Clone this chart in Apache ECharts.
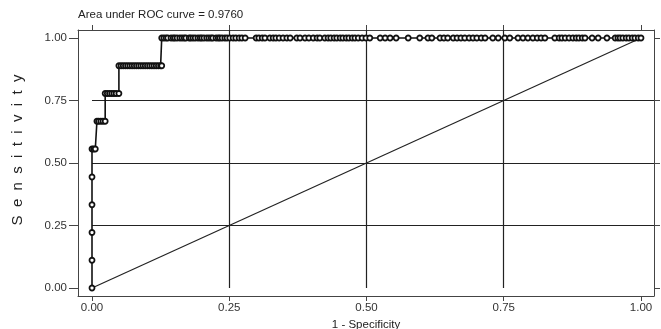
<!DOCTYPE html>
<html>
<head>
<meta charset="utf-8">
<script src="https://cdn.jsdelivr.net/npm/echarts@6/dist/echarts.min.js"></script>
<style>
  html, body { margin: 0; padding: 0; background: #fff; }
  #roc { width: 661px; height: 329px; }
</style>
</head>
<body>
<div id="roc"></div>
<script>
// tick values shared by all four axes
const ticks = [0, 0.25, 0.5, 0.75, 1]
const gridLines = [0.25, 0.5, 0.75]

// sensitivity steps (9 positives)
const sensLevels = [0, 0.111, 0.222, 0.333, 0.444, 0.556, 0.667, 0.778, 0.889, 1]

// 1 - specificity of the cutpoints found at each sensitivity level
const fprLevel0 = [0]
const fprLevel1 = [0]
const fprLevel2 = [0]
const fprLevel3 = [0]
const fprLevel4 = [0]
const fprLevel5 = [0, 0.003, 0.006]
const fprLevel6 = [0.009, 0.012, 0.016, 0.02, 0.024]
const fprLevel7 = [0.024, 0.028, 0.032, 0.036, 0.04, 0.044, 0.049]
const fprLevel8 = [0.049, 0.053, 0.057, 0.061, 0.065, 0.069, 0.073, 0.077, 0.081, 0.085,
  0.089, 0.093, 0.097, 0.101, 0.105, 0.109, 0.113, 0.117, 0.121, 0.125, 0.127]
const fprLevel9 = [0.127, 0.131, 0.135, 0.138, 0.144, 0.148, 0.151, 0.155, 0.16, 0.164,
  0.168, 0.171, 0.177, 0.18, 0.184, 0.188, 0.193, 0.197, 0.2, 0.204, 0.209, 0.213, 0.217,
  0.22, 0.226, 0.23, 0.233, 0.237, 0.242, 0.246, 0.251, 0.257, 0.262, 0.268, 0.273, 0.279,
  0.299, 0.304, 0.31, 0.315, 0.324, 0.33, 0.335, 0.341, 0.348, 0.355, 0.361, 0.373, 0.379,
  0.388, 0.395, 0.403, 0.41, 0.415, 0.424, 0.43, 0.435, 0.441, 0.446, 0.452, 0.457, 0.463,
  0.468, 0.474, 0.479, 0.485, 0.492, 0.499, 0.506, 0.525, 0.534, 0.543, 0.554, 0.576,
  0.597, 0.612, 0.619, 0.634, 0.641, 0.648, 0.658, 0.665, 0.672, 0.679, 0.687, 0.694,
  0.701, 0.709, 0.716, 0.73, 0.74, 0.752, 0.761, 0.776, 0.785, 0.794, 0.803, 0.811, 0.818,
  0.825, 0.843, 0.851, 0.856, 0.862, 0.869, 0.876, 0.882, 0.887, 0.893, 0.898, 0.911,
  0.922, 0.938, 0.953, 0.958, 0.962, 0.967, 0.973, 0.978, 0.984, 0.989, 0.995, 1]

const aucText = 'Area under ROC curve = 0.9760'

const fprByLevel = [fprLevel0, fprLevel1, fprLevel2, fprLevel3, fprLevel4,
  fprLevel5, fprLevel6, fprLevel7, fprLevel8, fprLevel9]

let rocData = []
fprByLevel.forEach((list, i) => {
  list.forEach(x => {
    rocData.push([x, sensLevels[i]])
  })
})

const font = 'Liberation Sans'
const ink = '#222'
const fmt = v => v.toFixed(2)

let myChart = echarts.init(document.getElementById('roc'))

let xRange = { min: -0.0255, max: 1.0237 }
let yRange = { min: -0.032, max: 1.032 }

// box edge shared by the four axes
let edge = { show: true, onZero: false, lineStyle: { color: '#444', width: 1 } }

let option = {
  animation: false,
  backgroundColor: '#fff',
  title: {
    text: aucText,
    left: 73,
    top: 4,
    textStyle: { fontFamily: font, fontSize: 11.5, fontWeight: 'normal', color: ink }
  },
  grid: {
    left: 78,
    right: 7,
    top: 30,
    bottom: 33,
    containLabel: false,
    outerBoundsMode: 'none'
  },
  xAxis: [
    {
      type: 'value',
      position: 'bottom',
      min: xRange.min,
      max: xRange.max,
      name: '1 - Specificity',
      nameLocation: 'middle',
      nameGap: 23,
      nameTextStyle: { fontFamily: font, fontSize: 11.5, color: ink },
      axisLine: edge,
      axisTick: { show: true, length: 5, customValues: ticks, lineStyle: { color: '#444' } },
      axisLabel: {
        customValues: ticks,
        formatter: fmt,
        margin: 6,
        fontFamily: font,
        fontSize: 11.5,
        color: '#333'
      },
      splitLine: { show: false }
    },
    {
      type: 'value',
      position: 'top',
      min: xRange.min,
      max: xRange.max,
      axisLine: edge,
      axisTick: { show: true, length: 5, customValues: ticks, lineStyle: { color: '#444' } },
      axisLabel: { show: false },
      splitLine: { show: false }
    }
  ],
  yAxis: [
    {
      type: 'value',
      position: 'left',
      min: yRange.min,
      max: yRange.max,
      axisLine: edge,
      axisTick: { show: true, length: 9, customValues: ticks, lineStyle: { color: '#444' } },
      axisLabel: {
        customValues: ticks,
        formatter: fmt,
        margin: 11,
        fontFamily: font,
        fontSize: 11.5,
        color: '#333'
      },
      splitLine: { show: false }
    },
    {
      type: 'value',
      position: 'right',
      min: yRange.min,
      max: yRange.max,
      axisLine: edge,
      axisTick: { show: true, length: 6, customValues: ticks, lineStyle: { color: '#444' } },
      axisLabel: { show: false },
      splitLine: { show: false }
    }
  ],
  graphic: [
    {
      type: 'text',
      x: 18,
      y: 150,
      rotation: Math.PI / 2,
      style: {
        text: 'S  e  n  s  i  t  i  v  i  t  y',
        font: '15px "Liberation Sans"',
        fill: ink,
        textAlign: 'center',
        textVerticalAlign: 'middle'
      }
    }
  ],
  series: [
    {
      // reference diagonal, carries the grid lines
      name: 'diagonal',
      type: 'line',
      data: [[0, 0], [1, 1]],
      showSymbol: false,
      symbol: 'none',
      lineStyle: { color: ink, width: 1.2 },
      silent: true,
      markLine: {
        silent: true,
        symbol: 'none',
        label: { show: false },
        lineStyle: { color: ink, width: 1.2, type: 'solid' },
        data: gridLines.map(v => [
          { coord: [0, v] },
          { coord: [xRange.max, v] }
        ]).concat(gridLines.map(v => [
          { coord: [v, 0] },
          { coord: [v, yRange.max] }
        ]))
      }
    },
    {
      name: 'ROC',
      type: 'line',
      data: rocData,
      symbol: 'circle',
      symbolSize: 5,
      showAllSymbol: true,
      lineStyle: { color: '#111', width: 1.6 },
      itemStyle: { color: '#fff', borderColor: '#111', borderWidth: 1.8 },
      z: 5
    }
  ]
}
myChart.setOption(option)
</script>
</body>
</html>
